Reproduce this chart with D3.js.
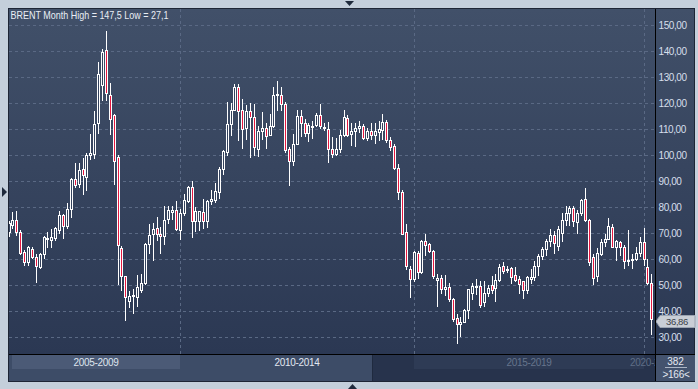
<!DOCTYPE html>
<html>
<head>
<meta charset="utf-8">
<script src="https://d3js.org/d3.v7.min.js"></script>
<style>
  body { margin:0; background:#c4cfdb; }
  svg { display:block; font-family:"Liberation Sans", Arial, sans-serif; }
</style>
</head>
<body>
<svg width="698" height="389"></svg>
<script>
// monthly Brent candles, Jun 2006 .. Mar 2020
var months = d3.timeMonth.range(new Date(2006, 5, 1), new Date(2020, 3, 1));

var open = [70.3,73.1,75.1,70.4,62.7,58.7,63.8,60.8,56.8,61.7,
  67.8,67.4,68.0,71.2,77.0,72.8,79.2,90.6,88.8,94.6,
  91.5,100.1,100.4,112.2,126.9,140.4,123.1,115.4,99.2,64.1,
  53.2,43.8,45.6,45.4,47.9,50.5,65.5,69.6,71.8,69.5,
  68.7,75.2,77.9,78.7,71.0,77.7,82.2,87.6,74.5,74.7,
  78.2,74.5,82.2,82.8,85.6,94.7,101.2,112.0,117.4,126.2,
  117.2,110.4,117.0,114.6,102.1,109.1,110.4,107.6,111.3,123.0,
  123.2,119.6,102.3,97.6,104.2,115.1,112.3,108.5,110.9,111.4,
  115.5,110.8,110.0,102.3,100.4,102.1,107.8,114.2,108.2,109.1,
  110.3,111.3,106.5,109.1,107.8,108.7,109.7,112.6,105.9,103.3,
  95.0,85.8,70.3,56.2,52.4,62.3,54.9,66.9,65.5,62.9,
  52.0,52.6,48.5,49.2,44.4,37.3,34.7,35.8,40.1,46.9,
  49.5,49.7,43.5,46.9,49.9,48.6,51.8,57.3,55.6,56.4,
  53.7,52.2,51.3,47.9,52.4,52.8,57.3,61.2,63.7,66.9,
  69.1,65.0,70.1,74.9,77.6,79.4,74.2,77.8,83.2,74.9,
  60.5,53.2,61.8,66.3,67.8,72.1,64.4,66.3,64.4,59.2,
  59.6,60.1,62.4,66.5,56.7,50.5];

var high = [74.5,77.9,78.5,71.0,63.2,65.1,64.5,61.7,62.3,68.7,
  70.3,71.6,72.3,78.5,77.4,81.3,91.2,96.9,96.9,98.8,
  100.9,108.2,117.0,135.6,140.7,147.5,127.7,115.8,100.1,64.8,
  53.2,47.5,48.5,53.7,54.0,65.9,73.3,73.9,76.2,72.3,
  80.5,80.3,80.3,82.4,79.2,85.0,88.1,90.0,80.0,78.3,
  82.9,82.8,86.4,89.0,95.3,102.0,120.3,120.0,127.4,127.1,
  121.5,119.2,120.0,119.4,111.0,116.5,112.4,115.7,126.2,128.6,
  126.2,120.3,103.1,108.1,117.4,117.4,113.8,112.3,113.1,116.2,
  119.4,112.3,112.6,106.8,106.5,109.7,117.4,115.5,112.3,112.3,
  113.2,111.7,110.4,112.3,112.3,113.2,115.8,113.6,106.9,104.0,
  96.3,86.4,73.2,57.2,62.9,62.9,67.4,69.7,66.2,63.3,
  54.3,53.9,53.9,50.5,44.8,38.8,37.4,40.6,48.5,50.5,
  52.4,51.4,51.4,49.9,53.5,54.1,57.9,58.6,57.3,56.9,
  56.9,53.5,51.5,53.5,55.9,59.2,61.8,64.7,67.6,71.4,
  70.8,72.5,77.8,80.4,80.4,80.4,78.9,83.2,87.1,75.3,
  61.8,64.0,67.6,69.4,75.6,73.4,67.3,67.0,65.3,71.2,
  61.8,64.7,68.3,71.7,60.1,54.1];

var low = [68.5,71.5,68.9,61.6,57.1,57.1,60.0,50.8,56.2,59.8,
  64.3,64.3,66.9,69.4,67.7,71.3,75.8,87.3,87.3,84.6,
  86.1,98.2,98.5,108.1,120.9,120.9,107.7,88.3,50.0,47.6,
  36.2,41.2,38.8,41.5,46.9,50.0,61.8,59.2,67.0,62.0,
  65.3,73.5,75.0,70.6,67.4,76.4,81.3,68.1,70.2,70.6,
  71.3,71.9,80.6,81.5,83.1,92.4,99.5,107.4,116.8,105.3,
  102.3,105.6,98.8,99.5,99.0,105.6,102.3,107.4,110.4,116.8,
  116.8,100.8,88.2,95.6,103.8,106.9,106.7,104.9,106.2,110.9,
  109.9,109.2,96.7,98.7,99.4,100.8,106.9,106.9,103.3,103.1,
  108.5,105.9,105.3,105.9,104.0,105.3,105.9,104.6,101.3,94.1,
  82.8,69.3,55.5,45.0,51.0,52.1,54.0,61.2,62.3,52.4,
  41.5,46.4,45.8,43.4,35.6,27.1,29.8,35.3,36.9,44.1,
  46.2,41.2,41.5,45.1,46.4,43.5,51.2,54.1,54.6,50.4,
  51.2,46.5,44.5,46.5,50.3,51.5,53.5,59.7,61.2,64.4,
  61.8,63.0,66.5,72.7,72.8,72.2,69.7,76.5,74.2,57.3,
  49.9,50.9,61.2,64.7,67.6,64.0,59.2,61.2,56.0,57.3,
  56.0,59.2,60.6,57.3,49.9,30.8];

var close = [73.6,75.1,70.4,62.3,58.8,64.5,60.8,57.2,61.9,68.2,
  68.1,68.5,71.9,77.0,72.8,79.2,90.9,88.5,94.0,92.3,
  100.1,100.8,111.7,131.1,139.7,123.8,113.9,97.7,65.4,53.2,
  45.4,45.8,46.2,49.1,50.8,65.5,69.3,71.6,69.5,68.6,
  75.0,78.6,78.7,71.3,77.7,82.8,87.6,74.5,78.3,78.3,
  74.5,82.4,83.1,86.0,94.6,101.4,112.0,117.4,126.2,117.0,
  110.0,117.0,114.6,103.1,109.1,110.4,107.2,111.3,123.2,123.4,
  119.6,101.8,97.6,104.2,115.1,112.3,108.5,111.4,111.2,115.5,
  111.3,110.3,102.1,100.4,102.3,107.8,114.6,107.8,109.1,110.4,
  111.3,106.5,109.1,107.8,109.1,110.0,112.6,105.9,103.1,95.0,
  85.8,69.7,57.3,52.4,62.6,54.9,66.9,65.3,62.9,53.3,
  52.6,48.5,49.2,44.4,36.9,34.7,35.8,40.1,48.2,49.7,
  49.7,42.2,46.9,48.8,48.1,51.8,57.0,55.4,56.0,52.8,
  51.9,50.3,47.9,52.8,53.1,57.3,61.2,63.7,66.9,69.1,
  66.0,71.4,74.9,77.8,79.4,74.6,77.8,82.7,74.9,58.6,
  52.6,62.1,66.3,67.8,72.7,64.4,66.9,64.4,59.2,59.6,
  60.1,62.4,66.3,59.9,50.5,36.86];

var priceTicks = [30, 40, 50, 60, 70, 80, 90, 100, 110, 120, 130, 140, 150];
var gridMonths = [new Date(2010, 1, 1), new Date(2015, 1, 1), new Date(2020, 0, 1)];
var periods = ["2005-2009", "2010-2014", "2015-2019", "2020-2024"];
var title = "BRENT Month High = 147,5 Low = 27,1";
var barCount = "382";
var visibleCount = ">166<";

var fmt = function (v) { return d3.format(".2f")(v).replace(".", ","); };

var plot = {left: 9, right: 655, top: 9, bottom: 354};
var svg = d3.select("svg");

var defs = svg.append("defs");
var grad = defs.append("linearGradient").attr("id", "bg").attr("x1", 0).attr("y1", 0).attr("x2", 0).attr("y2", 1);
grad.append("stop").attr("offset", "0%").attr("stop-color", "#415069");
grad.append("stop").attr("offset", "100%").attr("stop-color", "#2b3853");
defs.append("clipPath").attr("id", "clip").append("rect")
  .attr("x", plot.left).attr("y", plot.top)
  .attr("width", plot.right - plot.left).attr("height", plot.bottom - plot.top);

// panel
svg.append("rect").attr("x", 8).attr("y", 8).attr("width", 687).attr("height", 374).attr("fill", "#1d2535");
svg.append("rect").attr("x", plot.left).attr("y", plot.top).attr("width", 685).attr("height", plot.bottom - plot.top).attr("fill", "url(#bg)");

var x = d3.scalePoint().domain(months.map(Number)).range([8.5, 651.3]);
var y = d3.scaleLinear().domain([30, 150]).range([336.7, 25]);
var px = function (d) { return Math.round(x(+d)); };

// grid
var grid = svg.append("g").attr("stroke", "#5a6984").attr("stroke-dasharray", "3,3");
grid.selectAll("line.h").data(priceTicks).join("line")
  .attr("x1", plot.left).attr("x2", plot.right)
  .attr("y1", d => Math.round(y(d)) + 0.5).attr("y2", d => Math.round(y(d)) + 0.5);
grid.selectAll("line.v").data(gridMonths).join("line")
  .attr("x1", d => px(d) + 0.5).attr("x2", d => px(d) + 0.5)
  .attr("y1", plot.top).attr("y2", plot.bottom);

// candles
var candles = svg.append("g").attr("clip-path", "url(#clip)");
var idx = d3.range(months.length);
candles.selectAll("line").data(idx).join("line")
  .attr("x1", i => px(months[i]) + 0.5).attr("x2", i => px(months[i]) + 0.5)
  .attr("y1", i => Math.round(y(high[i]))).attr("y2", i => Math.round(y(low[i])))
  .attr("stroke", "#ffffff");
candles.selectAll("rect").data(idx).join("rect")
  .attr("x", i => px(months[i]) - 0.5)
  .attr("y", i => Math.round(y(Math.max(open[i], close[i]))) + 0.5)
  .attr("width", 2)
  .attr("height", i => Math.max(1, Math.round(y(Math.min(open[i], close[i]))) - Math.round(y(Math.max(open[i], close[i])))))
  .attr("fill", i => close[i] < open[i] ? "#e5173f" : "#34425d")
  .attr("stroke", "#ffffff");

// right axis
svg.append("g").selectAll("text").data(priceTicks).join("text")
  .attr("x", 658.5).attr("y", d => y(d) + 4)
  .attr("font-size", 10).attr("letter-spacing", -0.4)
  .attr("fill", "#d6dfec").text(fmt);

// last price tag
var last = close[close.length - 1];
var ly = Math.round(y(last)) + 2;
svg.append("path")
  .attr("d", "M656," + (ly + 0.5) + "L660," + (ly - 5.5) + "H695V" + (ly + 6.5) + "H660Z")
  .attr("fill", "#c9ced6").attr("stroke", "#9aa3b0");
svg.append("text").attr("x", 677).attr("y", ly + 4)
  .attr("text-anchor", "middle")
  .attr("font-size", 9.5).attr("letter-spacing", -0.4).attr("fill", "#3a3f48").text(fmt(last));

// separators
svg.append("line").attr("x1", 655.5).attr("x2", 655.5).attr("y1", 9).attr("y2", 381).attr("stroke", "#000");
svg.append("line").attr("x1", 9).attr("x2", 695).attr("y1", 354.5).attr("y2", 354.5).attr("stroke", "#000");

// period navigator
var nav = svg.append("g");
nav.append("rect").attr("x", 9).attr("y", 355).attr("width", 363).attr("height", 26).attr("fill", "#3d4c67");
nav.append("rect").attr("x", 372).attr("y", 355).attr("width", 283).attr("height", 26).attr("fill", "#27334c");
nav.append("line").attr("x1", 372.5).attr("x2", 372.5).attr("y1", 355).attr("y2", 381).attr("stroke", "#1f2a3f");
var bounds = [12].concat(gridMonths.map(d => px(d)), [653]);
var navStyle = [
  {box: "#4b5a76", text: "#dfe5ee"},
  {box: null, text: "#e2e8f1"},
  {box: "#2e3b55", text: "#66758c"},
  {box: null, text: "#5f6e86"}
];
periods.forEach(function (p, i) {
  if (navStyle[i].box) {
    nav.append("rect").attr("x", bounds[i]).attr("y", 355)
      .attr("width", bounds[i + 1] - bounds[i]).attr("height", 14).attr("fill", navStyle[i].box);
  }
});
defs.append("clipPath").attr("id", "navclip").append("rect").attr("x", 9).attr("y", 355).attr("width", 646).attr("height", 26);
nav.append("g").attr("clip-path", "url(#navclip)").selectAll("text").data(periods).join("text")
  .attr("x", (d, i) => (bounds[i] + bounds[i + 1]) / 2 + (i === 3 ? 4 : 0))
  .attr("y", 366).attr("text-anchor", "middle")
  .attr("font-size", 10).attr("letter-spacing", -0.3)
  .attr("fill", (d, i) => navStyle[i].text).text(d => d);

// counters
svg.append("rect").attr("x", 656).attr("y", 355).attr("width", 39).attr("height", 26).attr("fill", "#44536e");
svg.append("text").attr("x", 675.5).attr("y", 365).attr("text-anchor", "middle")
  .attr("font-size", 10).attr("fill", "#e4e9f1").text(barCount);
svg.append("line").attr("x1", 665).attr("x2", 687).attr("y1", 367.5).attr("y2", 367.5).attr("stroke", "#aab4c4");
svg.append("text").attr("x", 676).attr("y", 378).attr("text-anchor", "middle")
  .attr("font-size", 10).attr("letter-spacing", -0.3).attr("fill", "#e4e9f1").text(visibleCount);

// title
svg.append("text").attr("x", 10.5).attr("y", 18.5)
  .attr("font-size", 10.5).attr("textLength", 158).attr("lengthAdjust", "spacingAndGlyphs")
  .attr("fill", "#e9eef5").text(title);

// frame arrows
svg.append("path").attr("d", "M345,1H354L349.5,6Z").attr("fill", "#1f2a3c");
svg.append("path").attr("d", "M348,389H357L352.5,384Z").attr("fill", "#1f2a3c");
svg.append("path").attr("d", "M2,187V197L7,192Z").attr("fill", "#1f2a3c");
</script>
</body>
</html>
